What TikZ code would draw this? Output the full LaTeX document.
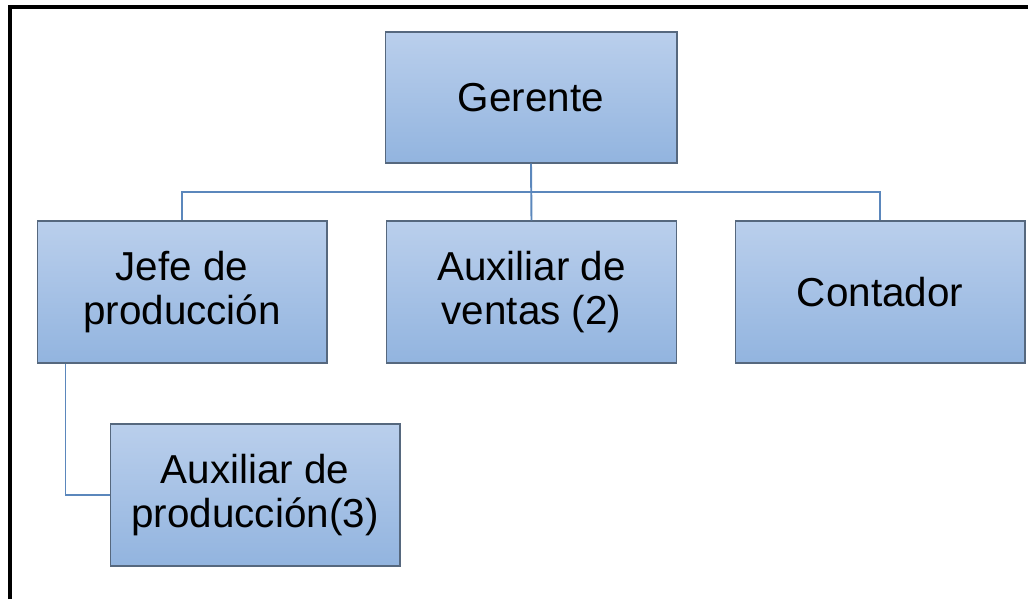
\documentclass[tikz,border=0pt]{standalone}
\usepackage{fontspec}
\setmainfont{Liberation Sans}
\definecolor{boxtop}{HTML}{BACFEC}
\definecolor{boxbot}{HTML}{92B4DF}
\definecolor{boxline}{HTML}{56687E}
\definecolor{linkblue}{HTML}{5B87BC}

\begin{document}
\begin{tikzpicture}
        [x=0.02cm, y=-0.02cm, every node/.style={draw=boxline, line width=0.6pt, top color=boxtop, bottom color=boxbot, align=center, inner sep=0, minimum width=5.8cm, minimum height=2.84cm, font=\fontsize{23}{25.5}\selectfont}, link/.style={draw=linkblue, line width=1.1pt}]

        \useasboundingbox (0,0) rectangle (1028,599);

        \node (gerente) at (531, 97.5) [minimum width=5.84cm, minimum height=2.62cm] {Gerente};
        \node (jefe) at (182, 292) {Jefe de\\producción};
        \node (ventas) at (531.5, 292) {Auxiliar de\\ventas (2)};
        \node (contador) at (880, 292) {Contador};
        \node (auxprod) at (255, 495) {Auxiliar de\\producción(3)};

        \coordinate (bus) at (531, 192);

        \draw[link] (gerente.south) -- (ventas.north);
        \draw[link] (jefe.north) |- (bus) -| (contador.north);
        \draw[link] ([xshift=0.58cm]jefe.south west) |- (auxprod.west);

        \draw[line width=1.8pt] (10,599) -- (10,7) -- (1028,7);
      \end{tikzpicture}
\end{document}
